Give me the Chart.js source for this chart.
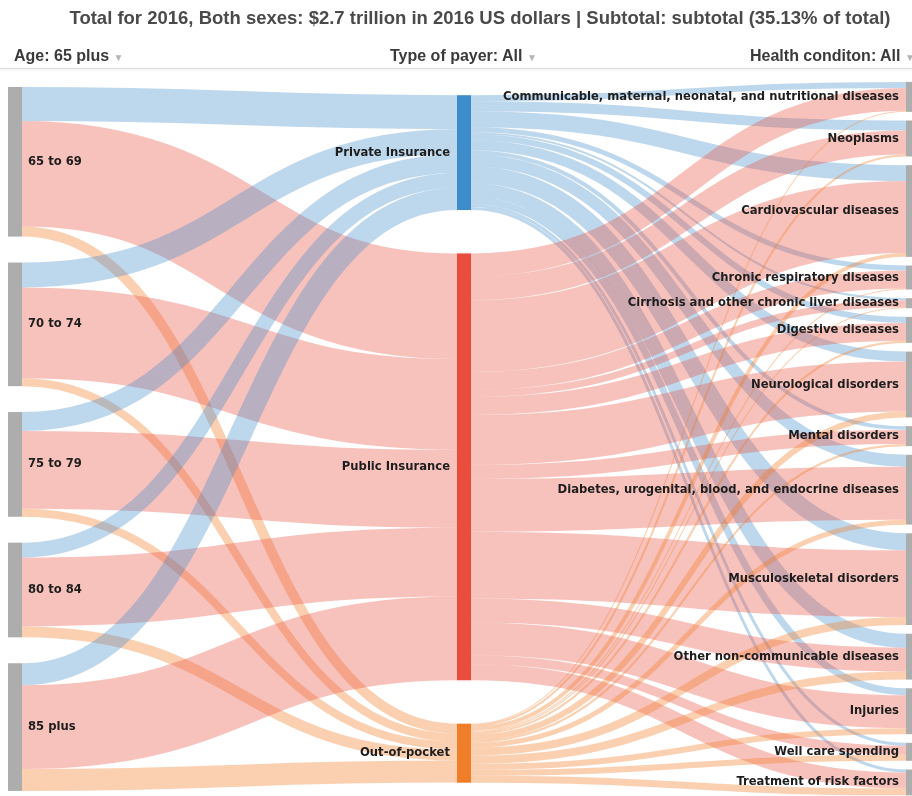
<!DOCTYPE html>
<html><head><meta charset="utf-8">
<script src="https://cdn.jsdelivr.net/npm/chart.js@4/dist/chart.umd.min.js"></script>
<style>
html,body{margin:0;padding:0;background:#fff;overflow:hidden;width:912px;height:796px;}
#wrap{position:relative;width:960px;height:796px;}
canvas{position:absolute;left:0;top:0;}
#title{position:absolute;left:0;top:7px;width:960px;text-align:center;font:bold 18.5px "Liberation Sans Narrow","Arial Narrow","Liberation Sans",sans-serif;color:#4a4a4a;white-space:nowrap;}
.hdr{position:absolute;top:47px;font:bold 16px "Liberation Sans Narrow","Arial Narrow","Liberation Sans",sans-serif;color:#3a3a3a;white-space:nowrap;}
.hdr span{color:#b5b5b5;font-size:10px;}
#rule{position:absolute;left:0;top:68px;width:960px;height:1px;background:#dcdcdc;box-shadow:0 1px 3px rgba(0,0,0,0.12);}
</style></head>
<body><div id="wrap">
<canvas id="c" width="960" height="796"></canvas>
<div id="title">Total for 2016, Both sexes: $2.7 trillion in 2016 US dollars | Subtotal: subtotal (35.13% of total)</div>
<div class="hdr" style="left:14px">Age: 65 plus <span>▼</span></div>
<div class="hdr" style="left:390px">Type of payer: All <span>▼</span></div>
<div class="hdr" style="left:750px">Health conditon: All <span>▼</span></div>
<div id="rule"></div>
</div>
<script>
// ---- data (billions of 2016 US dollars) ----
const ageGroups = ['65 to 69','70 to 74','75 to 79','80 to 84','85 plus'];
const payers = ['Private Insurance','Public Insurance','Out-of-pocket'];
const conditions = [
  'Communicable, maternal, neonatal, and nutritional diseases',
  'Neoplasms',
  'Cardiovascular diseases',
  'Chronic respiratory diseases',
  'Cirrhosis and other chronic liver diseases',
  'Digestive diseases',
  'Neurological disorders',
  'Mental disorders',
  'Diabetes, urogenital, blood, and endocrine diseases',
  'Musculoskeletal disorders',
  'Other non-communicable diseases',
  'Injuries',
  'Well care spending',
  'Treatment of risk factors'
];
const privateByAge = [53.6, 39.4, 29.9, 23.6, 34.7];
const publicByAge  = [167.0, 143.3, 122.9, 108.7, 132.3];
const oopByAge     = [15.8, 12.6, 12.6, 17.3, 34.7];
const privateByCondition = [9.5, 15.8, 25.2, 7.9, 3.2, 9.5, 15.8, 6.3, 18.9, 26.8, 22.1, 11.0, 4.7, 4.7];
const publicByCondition  = [36.2, 37.8, 113.4, 28.4, 11.0, 28.4, 78.8, 22.1, 83.5, 105.5, 37.8, 52.0, 14.2, 25.2];
const oopByCondition     = [1.6, 3.2, 6.3, 1.6, 1.6, 3.2, 9.5, 3.2, 7.9, 12.6, 12.6, 9.5, 9.5, 11.0];

// ---- styles ----
const payerColors = ['#3d8bc9', '#ea4c3c', '#f07d28'];
const payerLinkColors = ['rgba(61,139,201,0.34)', 'rgba(234,76,60,0.34)', 'rgba(240,125,40,0.36)'];
const greyNode = '#adadad';
const NODE_W = 14;
const RIGHT_GAP = 14;              // gap between condition nodes (value units)
const COLUMN_INSETS = [[11, 8], [24, 21], [3, 1]]; // top/bottom inset per column (value units)

// ---- build sankey structure ----
const byAge = [privateByAge, publicByAge, oopByAge];
const byCond = [privateByCondition, publicByCondition, oopByCondition];
const columns = [
  ageGroups.map(n => ({name: n, color: greyNode, ins: [], outs: []})),
  payers.map((n, i) => ({name: n, color: payerColors[i], ins: [], outs: []})),
  conditions.map(n => ({name: n, color: greyNode, ins: [], outs: []}))
];
const links = [];
ageGroups.forEach((a, ai) => payers.forEach((p, pi) => {
  const l = {s: columns[0][ai], t: columns[1][pi], si: ai, ti: pi, v: byAge[pi][ai], color: payerLinkColors[pi]};
  links.push(l); l.s.outs.push(l); l.t.ins.push(l);
}));
payers.forEach((p, pi) => conditions.forEach((c, ci) => {
  const l = {s: columns[1][pi], t: columns[2][ci], si: pi, ti: ci, v: byCond[pi][ci], color: payerLinkColors[pi]};
  links.push(l); l.s.outs.push(l); l.t.ins.push(l);
}));
const sum = a => a.reduce((x, y) => x + y, 0);
columns.forEach(col => col.forEach(n => {
  n.value = Math.max(sum(n.ins.map(l => l.v)), sum(n.outs.map(l => l.v)));
}));
const colTotals = columns.map(col => sum(col.map(n => n.value)));
const SCALE_MAX = Math.max(...colTotals) + (conditions.length - 1) * RIGHT_GAP;
// vertical positions in value units
columns.forEach((col, ci) => {
  const [t, b] = COLUMN_INSETS[ci];
  const gap = (SCALE_MAX - t - b - colTotals[ci]) / (col.length - 1);
  let y = t;
  col.forEach(n => { n.y0 = y; n.y1 = y + n.value; y = n.y1 + gap; });
});
columns.forEach(col => col.forEach(n => {
  n.outs.sort((a, b) => a.ti - b.ti);
  n.ins.sort((a, b) => a.si - b.si);
  let o = n.y0; n.outs.forEach(l => { l.sy = o + l.v / 2; o += l.v; });
  let i = n.y0; n.ins.forEach(l => { l.ty = i + l.v / 2; i += l.v; });
}));
const colX = [0, 0.5, 1];

const sankeyPlugin = {
  id: 'sankeyDraw',
  afterDatasetsDraw(chart) {
    const ctx = chart.ctx, xs = chart.scales.x, ys = chart.scales.y;
    const nodeX0 = ci => {
      const px = xs.getPixelForValue(colX[ci]);
      return ci === 0 ? px : (ci === 1 ? px - NODE_W / 2 : px - NODE_W);
    };
    const colIndex = n => columns.findIndex(c => c.includes(n));
    ctx.save();
    // links
    links.forEach(l => {
      const sc = colIndex(l.s), tc = colIndex(l.t);
      const x0 = nodeX0(sc) + NODE_W, x1 = nodeX0(tc);
      const y0 = ys.getPixelForValue(l.sy), y1 = ys.getPixelForValue(l.ty);
      const w = Math.abs(ys.getPixelForValue(l.v) - ys.getPixelForValue(0));
      const xm = (x0 + x1) / 2;
      ctx.beginPath();
      ctx.moveTo(x0, y0);
      ctx.bezierCurveTo(xm, y0, xm, y1, x1, y1);
      ctx.strokeStyle = l.color;
      ctx.lineWidth = w;
      ctx.lineCap = 'butt';
      ctx.stroke();
    });
    // nodes + labels
    ctx.font = 'bold 11.6px "DejaVu Sans", Verdana, sans-serif';
    ctx.textBaseline = 'middle';
    columns.forEach((col, ci) => col.forEach(n => {
      const x0 = nodeX0(ci);
      const ya = ys.getPixelForValue(n.y0), yb = ys.getPixelForValue(n.y1);
      ctx.fillStyle = n.color;
      ctx.fillRect(x0, ya, NODE_W, yb - ya);
      ctx.fillStyle = '#1e1e1e';
      const ym = (ya + yb) / 2;
      if (ci === 0) { ctx.textAlign = 'left'; ctx.fillText(n.name, x0 + NODE_W + 6, ym); }
      else { ctx.textAlign = 'right'; ctx.fillText(n.name, x0 - 7, ym); }
    }));
    ctx.restore();
  }
};

new Chart(document.getElementById('c'), {
  type: 'scatter',
  data: { datasets: [{ data: [], pointRadius: 0 }] },
  options: {
    responsive: false,
    animation: false,
    events: [],
    layout: { padding: { top: 80, left: 8, right: 40, bottom: 0 } },
    plugins: { legend: { display: false }, title: { display: false }, tooltip: { enabled: false } },
    scales: {
      x: { type: 'linear', min: 0, max: 1, display: false },
      y: { type: 'linear', min: 0, max: SCALE_MAX, reverse: true, display: false }
    }
  },
  plugins: [sankeyPlugin]
});
</script>
</body></html>
